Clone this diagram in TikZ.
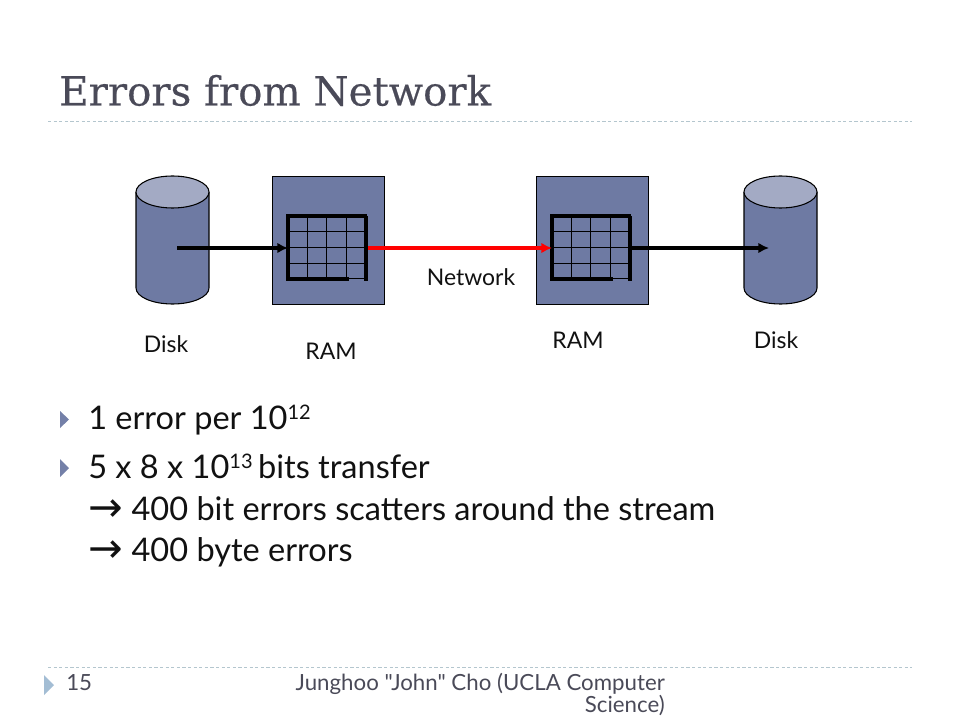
\documentclass[tikz,border=0pt]{standalone}
\usepackage{fontspec}
\setmainfont{Lato}
\newfontfamily\titlefont{DejaVu Serif}[FakeBold=0.4]
\newfontfamily\symfont{DejaVu Sans}
\newfontfamily\footfont{Lato}
\usetikzlibrary{arrows.meta}
\definecolor{slate}{HTML}{6E7AA3}
\definecolor{slatetop}{HTML}{A3AAC4}
\definecolor{titlecol}{HTML}{4A4A58}
\definecolor{rulecol}{HTML}{B4C6CE}
\definecolor{bulletcol}{HTML}{7480A8}
\definecolor{footbullet}{HTML}{A3BDD4}
\definecolor{textcol}{HTML}{111111}
\newcommand{\supr}[1]{\raisebox{7pt}{\fontsize{15}{18}\selectfont #1}}
\newcommand{\arrowmark}{\makebox[32.5pt][l]{\raisebox{-1pt}{\symfont\fontsize{31}{31}\selectfont →}}}
\tikzset{
  body/.style={anchor=base west,inner sep=0pt,text=textcol,font=\fontsize{24.4}{28}\selectfont},
  lab/.style={inner sep=0pt,text=textcol,font=\fontsize{17.2}{20}\selectfont},
  foot/.style={inner sep=0pt,text=titlecol,font=\footfont\fontsize{16.7}{19}\selectfont},
  ramblock/.style={draw=black,fill=slate,line width=0.8pt,minimum width=84pt,minimum height=96pt,inner sep=0pt},
  gridthin/.style={line width=0.75pt,draw=black},
  gridthick/.style={line width=2.4pt,draw=black},
  disk/.style={draw=black,fill=slate,line width=0.8pt},
  disktop/.style={draw=black,fill=slatetop,line width=0.8pt},
  blackarrow/.style={line width=2.4pt,draw=black,-{Latex[length=8pt,width=8pt]}},
  redarrow/.style={line width=2.4pt,draw=red,-{Latex[length=8pt,width=8pt]}},
  rulel/.style={draw=rulecol,line width=0.7pt,dash pattern=on 2.4pt off 1.8pt},
  bullet/.style={fill=bulletcol,draw=none},
}
\newcommand{\ramgrid}[1]{%
  \foreach \a in {307,326,346}{\draw[gridthin] (#1+\a-288,216) -- (#1+\a-288,279);}
  \foreach \b in {232,248,264}{\draw[gridthin] (#1,\b) -- (#1+78,\b);}
  \draw[gridthin] (#1+59,279) -- (#1+78,279);
  \draw[gridthick,line cap=rect] (#1+59,279) -- (#1,279) -- (#1,216) -- (#1+77,216);
  \draw[gridthick] (#1+78,216) -- (#1+78,281);
}
\begin{document}
\begin{tikzpicture}[x=0.75pt,y=-0.75pt]
\useasboundingbox (0,0) rectangle (960,720);
% title
\node[anchor=base west,inner sep=0pt,text=titlecol,font=\titlefont\fontsize{30.2}{36}\selectfont] (title) at (59,105.5) {Errors from Network};
\coordinate (r1a) at (48,121); \coordinate (r1b) at (912,121);
\draw[rulel] (r1a) -- (r1b);
% disks
\draw[disk] (136,192) -- (136,288) arc[start angle=180,end angle=0,x radius=36.5,y radius=16] -- (209,192);
\draw[disktop] (172.5,192) ellipse[x radius=36.5,y radius=16];
\draw[disk] (744,192) -- (744,288) arc[start angle=180,end angle=0,x radius=36.5,y radius=16] -- (817,192);
\draw[disktop] (780.5,192) ellipse[x radius=36.5,y radius=16];
% RAM
\node[ramblock] (ram1) at (328.5,240.5) {};
\node[ramblock] (ram2) at (592.5,240.5) {};
\ramgrid{288}
\ramgrid{552}
% connectors
\coordinate (d1) at (177,248); \coordinate (g1in) at (288,248);
\coordinate (g1out) at (368,248); \coordinate (g2in) at (552,248);
\coordinate (g2out) at (632,248); \coordinate (d2) at (769,248);
\draw[blackarrow] (d1) -- (g1in);
\draw[redarrow] (g1out) -- (g2in);
\draw[blackarrow] (g2out) -- (d2);
% labels
\node[lab] (disk1) at (166,344) {Disk};
\node[lab] (ramlab1) at (331,351) {RAM};
\node[lab] (net) at (471,277) {Network};
\node[lab] (ramlab2) at (578,340) {RAM};
\node[lab] (disk2) at (776,340) {Disk};
% bullets
\fill[bullet] (60,411) -- (69,419.5) -- (60,428) -- cycle;
\fill[bullet] (60,459) -- (69,468) -- (60,477) -- cycle;
% body
\node[body] (b1) at (88,429) {1 error per 10\supr{12}};
\node[body] (b2) at (88,478) {5 x 8 x 10\supr{13}\,bits transfer};
\node[body] (b3) at (88,520) {\arrowmark 400 bit errors scatters around the stream};
\node[body] (b4) at (88,561) {\arrowmark 400 byte errors};
% footer
\coordinate (r2a) at (48,667); \coordinate (r2b) at (912,667);
\draw[rulel] (r2a) -- (r2b);
\fill[footbullet] (44,675) -- (54,685) -- (44,695) -- cycle;
\node[foot,anchor=base west] (pg) at (66,690) {15};
\node[foot,anchor=base east] (f1) at (665,690) {Junghoo "John" Cho (UCLA Computer};
\node[foot,anchor=base east] (f2) at (665,712) {Science)};
\end{tikzpicture}
\end{document}
